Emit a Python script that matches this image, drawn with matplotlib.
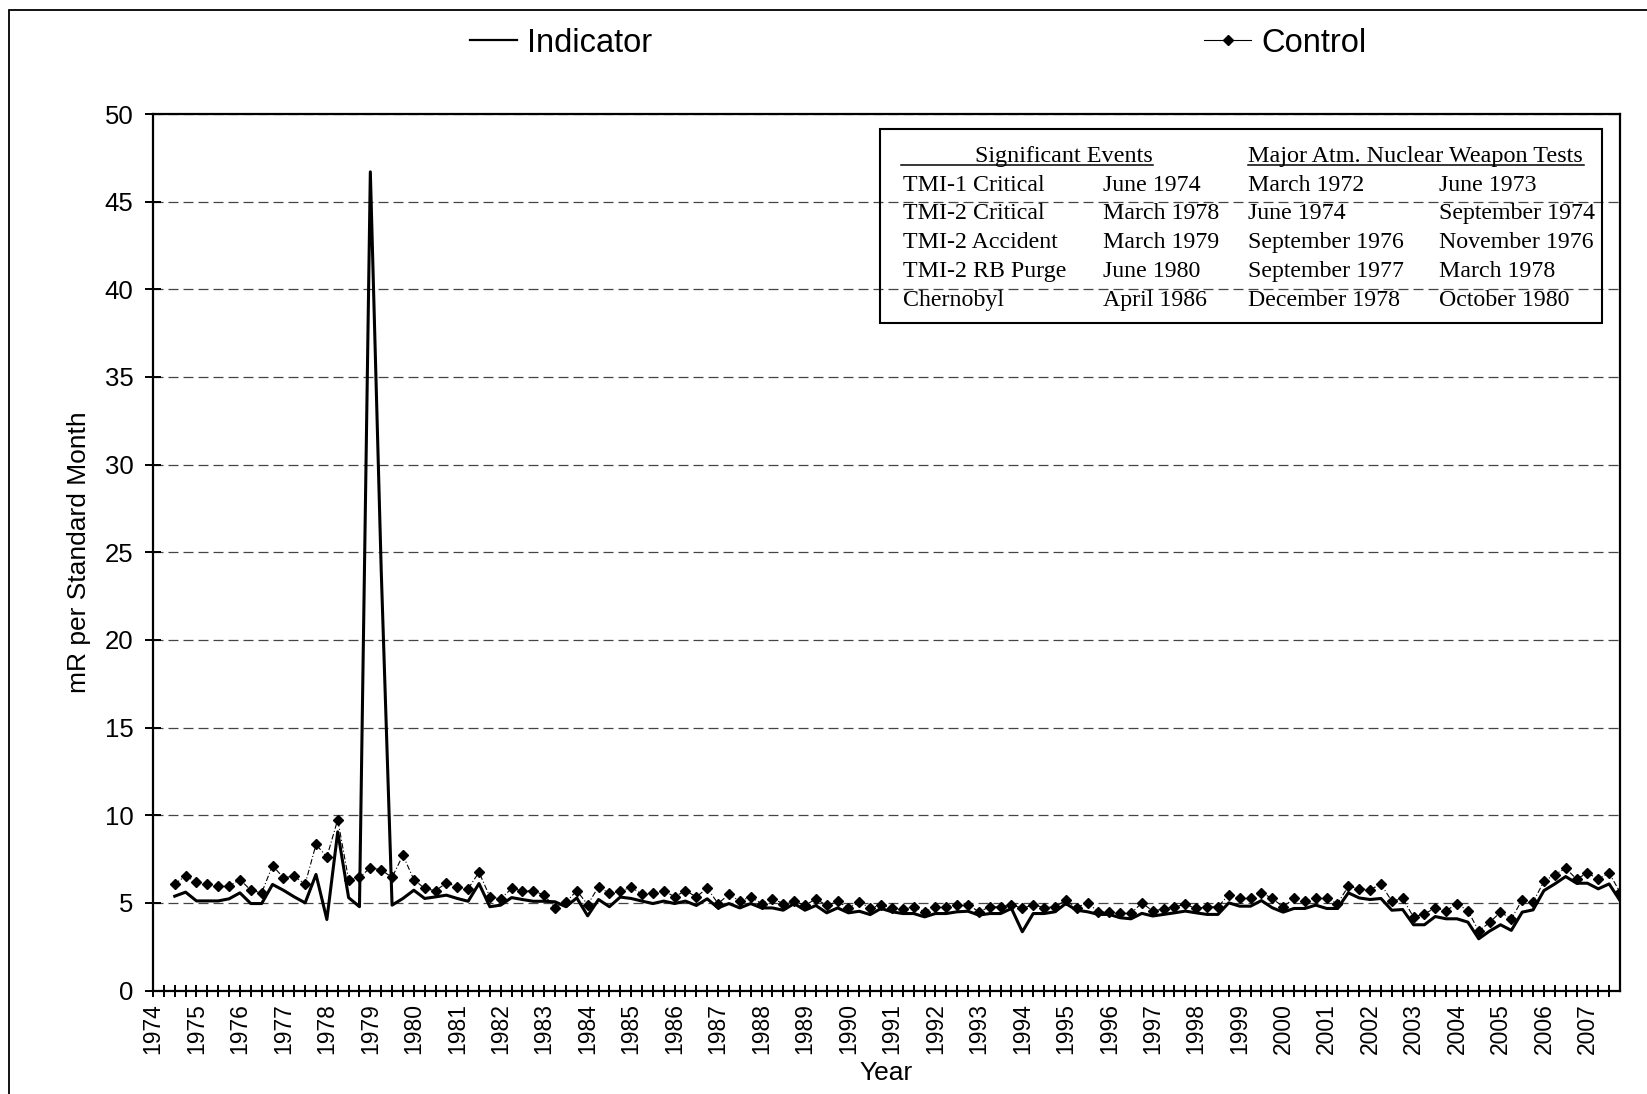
import numpy as np
import matplotlib
matplotlib.use("Agg")
import matplotlib.pyplot as plt
from matplotlib.lines import Line2D
from matplotlib.patches import Rectangle

plt.rcParams['font.family'] = ['Liberation Sans', 'DejaVu Sans']

# quarterly exposure, mR per standard month (first point = mid 1974)
indicator = [
    5.38, 5.61, 5.11, 5.11, 5.11, 5.23, 5.57, 4.96, 4.96, 6.05,
    5.72, 5.34, 5.00, 6.62, 4.05, 9.05, 5.30, 4.78, 46.7, 24.0,
    4.87, 5.25, 5.72, 5.25, 5.34, 5.44, 5.25, 5.09, 6.10, 4.78,
    4.87, 5.30, 5.19, 5.09, 5.09, 5.06, 4.78, 5.28, 4.26, 5.19,
    4.78, 5.33, 5.25,
    5.10, 4.96, 5.10, 4.96, 5.10, 4.85, 5.23, 4.71, 4.96, 4.71,
    4.96, 4.71, 4.71, 4.58, 4.96, 4.58, 4.85, 4.43, 4.71, 4.43,
    4.52, 4.33,
    4.68, 4.49, 4.39, 4.39, 4.20, 4.39, 4.39, 4.49, 4.52, 4.30,
    4.39, 4.39, 4.68, 3.35, 4.39, 4.39, 4.49, 4.96, 4.58, 4.49,
    4.34, 4.34, 4.15, 4.09, 4.40, 4.25, 4.34, 4.43, 4.53, 4.43,
    4.34, 4.34, 5.00, 4.81, 4.81, 5.13, 4.72, 4.47, 4.68, 4.68,
    4.87, 4.68, 4.68, 5.57, 5.28, 5.19, 5.25, 4.58, 4.62,
    3.75, 3.75, 4.22, 4.09, 4.09, 3.90, 2.95, 3.39, 3.75, 3.43,
    4.47, 4.60, 5.70, 6.08, 6.50, 6.12, 6.12, 5.80, 6.08, 5.13,
]
control = [
    6.07, 6.54, 6.18, 6.07, 5.95, 5.95, 6.33, 5.72, 5.57, 7.13,
    6.43, 6.52, 6.07, 8.33, 7.62, 9.75, 6.33, 6.45, 7.00, 6.88,
    6.45, 7.72, 6.33, 5.82, 5.69, 6.14, 5.92, 5.80, 6.75, 5.34,
    5.23, 5.82, 5.69, 5.69, 5.44, 4.72, 5.04, 5.69, 4.90, 5.92,
    5.54, 5.65, 5.90,
    5.48, 5.57, 5.70, 5.34, 5.70, 5.34, 5.84, 4.96, 5.48, 5.10,
    5.34, 4.96, 5.23, 4.96, 5.10, 4.85, 5.23, 4.85, 5.08, 4.71,
    5.04, 4.71,
    4.87, 4.73, 4.64, 4.77, 4.49, 4.77, 4.77, 4.90, 4.90, 4.49,
    4.77, 4.77, 4.90, 4.68, 4.90, 4.73, 4.77, 5.15, 4.73, 5.00,
    4.49, 4.49, 4.40, 4.40, 5.00, 4.53, 4.66, 4.77, 4.91, 4.68,
    4.77, 4.77, 5.47, 5.25, 5.25, 5.58, 5.25, 4.77, 5.25, 5.09,
    5.25, 5.25, 4.96, 5.94, 5.81, 5.74, 6.08, 5.09, 5.25,
    4.19, 4.38, 4.70, 4.56, 4.94, 4.56, 3.39, 3.88, 4.47, 4.09,
    5.17, 5.04, 6.23, 6.61, 6.97, 6.36, 6.70, 6.36, 6.70, 5.61,
]
first_quarter = 1974.5
quarters = first_quarter + 0.25 * np.arange(len(indicator))
years = list(range(1974, 2008))
y_ticks = list(range(0, 55, 5))

events_header = "Significant Events"
events = ["TMI-1 Critical", "TMI-2 Critical", "TMI-2 Accident", "TMI-2 RB Purge", "Chernobyl"]
event_dates = ["June 1974", "March 1978", "March 1979", "June 1980", "April 1986"]
tests_header = "Major Atm. Nuclear Weapon Tests"
tests_a = ["March 1972", "June 1974", "September 1976", "September 1977", "December 1978"]
tests_b = ["June 1973", "September 1974", "November 1976", "March 1978", "October 1980"]

W, H = 1647, 1094


def fx(x):
    return x / W


def fy(y):
    return 1 - y / H


fig = plt.figure(figsize=(W / 100, H / 100), dpi=100)
ax = fig.add_axes([fx(153), fy(990.5), fx(1620) - fx(153), fy(114) - fy(990.5)])

ax.plot(quarters, control, color='black', lw=0.8, ls=(0, (5, 2, 1, 2)),
        marker='D', ms=5.3, mfc='black', mec='black', zorder=3)
ax.plot(quarters, indicator, color='black', lw=2.2, zorder=4)

ax.set_xlim(1974, 2007.75)
ax.set_ylim(0, 50)
ax.set_xticks(years)
ax.set_xticklabels([str(y) for y in years], rotation=90, fontsize=16.5)
ax.set_xticks([y + d for y in years for d in (0.25, 0.5, 0.75) if y + d < 2007.75], minor=True)
ax.set_yticks(y_ticks)
ax.set_yticklabels([str(v) for v in y_ticks], fontsize=18.5)
ax.tick_params(axis='x', which='both', direction='inout', length=8, width=1.4, pad=5)
ax.tick_params(axis='y', direction='inout', length=12, width=1.4, pad=8)
ax.grid(axis='y', color='#444444', lw=0.9, ls=(0, (8, 4)))
ax.set_axisbelow(True)
for s in ax.spines.values():
    s.set_linewidth(1.6)

ax.set_ylabel("mR per Standard Month", fontsize=19, labelpad=10)
ax.set_xlabel("Year", fontsize=19, labelpad=5)

# top legend
h_ind = Line2D([], [], color='black', lw=1.6)
h_ctl = Line2D([], [], color='black', lw=0.8, marker='D', ms=5.3)
fig.legend([h_ind, h_ctl], ["Indicator", "Control"], loc='center left',
           bbox_to_anchor=(fx(470), fy(43)), ncol=2, frameon=False, fontsize=23.5,
           handlelength=1.45, handletextpad=0.3, columnspacing=16.9,
           borderpad=0, borderaxespad=0, numpoints=1)

# events table
serif = ['Liberation Serif', 'DejaVu Serif']
fig.patches.append(Rectangle((fx(880), fy(323.5)), fx(1602) - fx(880), fy(129) - fy(323.5),
                             transform=fig.transFigure, fill=False, ec='black', lw=1.5))
fig.text(fx(1153), fy(154), events_header, family=serif, fontsize=17.4,
         ha='right', va='center_baseline')
fig.text(fx(1248), fy(154), tests_header, family=serif, fontsize=17.4,
         ha='left', va='center_baseline')
for x0, x1 in [(901, 1153), (1248, 1584)]:
    fig.add_artist(Line2D([fx(x0), fx(x1)], [fy(165), fy(165)], color='black', lw=1.1,
                          transform=fig.transFigure))
row_y = [183, 211, 240, 269, 298]
for i, ry in enumerate(row_y):
    for cx, col in zip([903, 1103, 1248, 1439], [events, event_dates, tests_a, tests_b]):
        fig.text(fx(cx), fy(ry), col[i], family=serif, fontsize=17.2, ha='left',
                 va='center_baseline')

# outer frame of the scanned figure
fig.patches.append(Rectangle((fx(9), -0.05), 1.1, fy(10) + 0.05,
                             transform=fig.transFigure, fill=False, ec='black', lw=1.3))

fig.savefig("out.png", dpi=100)
